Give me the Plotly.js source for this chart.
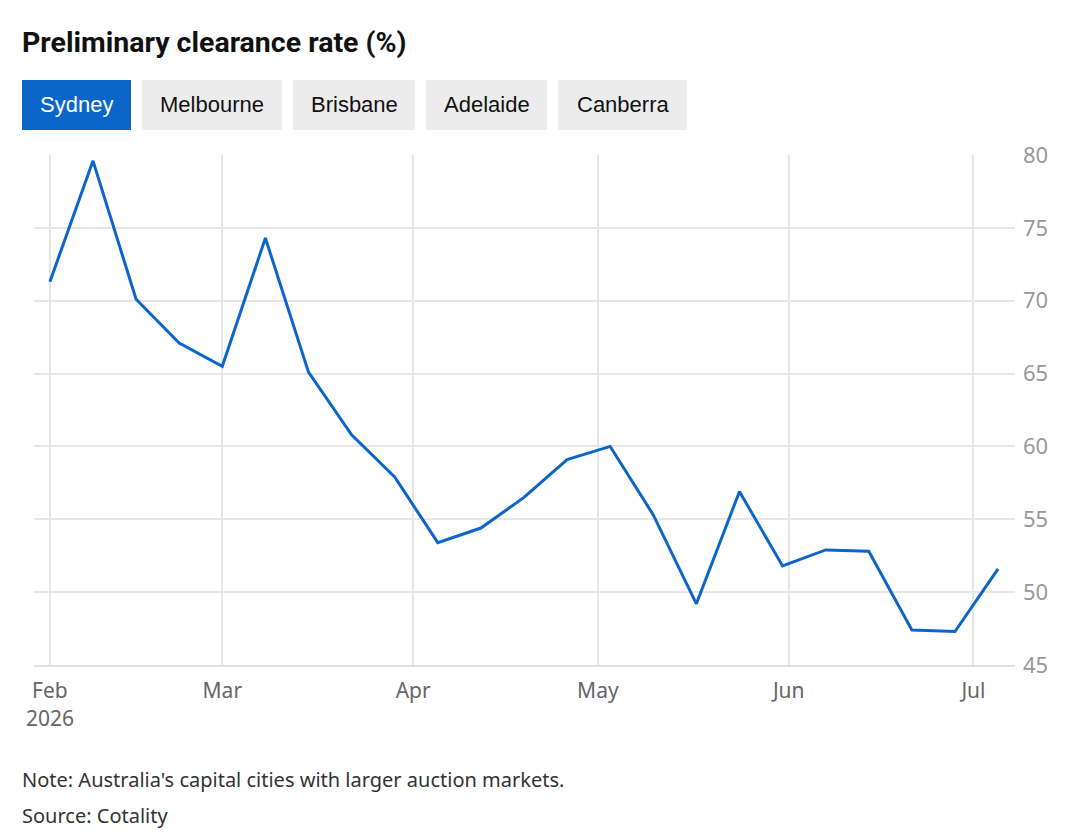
<!DOCTYPE html>
<html>
<head>
<meta charset="utf-8">
<script src="https://cdn.plot.ly/plotly-3.0.1.min.js"></script>
<style>
  html, body { margin: 0; padding: 0; background: #fff; }
  #chart { width: 1080px; height: 837px; }
</style>
</head>
<body>
<div id="chart"></div>
<script>
// Data (weekly preliminary clearance rate, Sydney)
const dates = [
  '2026-02-01','2026-02-08','2026-02-15','2026-02-22','2026-03-01','2026-03-08',
  '2026-03-15','2026-03-22','2026-03-29','2026-04-05','2026-04-12','2026-04-19',
  '2026-04-26','2026-05-03','2026-05-10','2026-05-17','2026-05-24','2026-05-31',
  '2026-06-07','2026-06-14','2026-06-21','2026-06-28','2026-07-05'
];
const sydney = [
  71.3, 79.6, 70.1, 67.1, 65.5, 74.3,
  65.1, 60.8, 57.9, 53.4, 54.4, 56.5,
  59.1, 60.0, 55.3, 49.2, 56.9, 51.8,
  52.9, 52.8, 47.4, 47.3, 51.6
];
const cities = ['Sydney', 'Melbourne', 'Brisbane', 'Adelaide', 'Canberra'];
const tickDates = ['2026-02-01','2026-03-01','2026-04-01','2026-05-01','2026-06-01','2026-07-01'];
const tickLabels = ['Feb<br>2026','Mar','Apr','May','Jun','Jul'];
const yTicks = [45, 50, 55, 60, 65, 70, 75, 80];
const titleText = 'Preliminary clearance rate (%)';
const noteText = "Note: Australia's capital cities with larger auction markets.";
const sourceText = 'Source: Cotality';

// layout geometry (pixels)
const W = 1080, H = 837;
const L = 34, R = 1015, T = 155, B = 665;
const px = x => (x - L) / (R - L);
const py = y => (B - y) / (B - T);

const btnX = [[22,131],[142,282],[293,415],[426,547],[558,687]];
const btnY = [80,130];

const shapes = [];
const annotations = [];
cities.forEach((c, i) => {
  const active = i === 0;
  shapes.push({
    type: 'rect', xref: 'paper', yref: 'paper', layer: 'above',
    x0: px(btnX[i][0]), x1: px(btnX[i][1]), y0: py(btnY[1]), y1: py(btnY[0]),
    fillcolor: active ? '#0c66c9' : '#ececec', line: {width: 0}
  });
  annotations.push({
    xref: 'paper', yref: 'paper', x: px((btnX[i][0] + btnX[i][1]) / 2), y: py((btnY[0] + btnY[1]) / 2),
    xanchor: 'center', yanchor: 'middle', showarrow: false, text: c,
    font: {family: 'Liberation Sans, Arial, sans-serif', size: 22, color: active ? '#ffffff' : '#111111'}
  });
});
annotations.push({
  xref: 'paper', yref: 'paper', x: px(20), y: py(43), xanchor: 'left', yanchor: 'middle',
  showarrow: false, text: titleText,
  font: {family: 'Roboto, Liberation Sans, sans-serif', size: 28.5, weight: 700, color: '#111111'}
});
annotations.push({
  xref: 'paper', yref: 'paper', x: px(20), y: py(779), xanchor: 'left', yanchor: 'middle',
  showarrow: false, text: noteText,
  font: {family: 'Noto Sans, Open Sans, sans-serif', size: 20, color: '#333333'}
});
annotations.push({
  xref: 'paper', yref: 'paper', x: px(20), y: py(815), xanchor: 'left', yanchor: 'middle',
  showarrow: false, text: sourceText,
  font: {family: 'Noto Sans, Open Sans, sans-serif', size: 20, color: '#333333'}
});

const trace = {
  x: dates, y: sydney, type: 'scatter', mode: 'lines',
  line: {color: '#0c66c9', width: 3},
  hoverinfo: 'x+y'
};

const layout = {
  width: W, height: H,
  margin: {l: L, r: W - R, t: T, b: H - B, pad: 0},
  paper_bgcolor: '#ffffff', plot_bgcolor: '#ffffff',
  showlegend: false,
  xaxis: {
    type: 'date',
    range: ['2026-01-29 10:00', '2026-07-07 18:00'],
    tickmode: 'array', tickvals: tickDates, ticktext: tickLabels,
    showgrid: true, gridcolor: '#e6e6e6', gridwidth: 1.5,
    showline: true, linecolor: '#e0e0e0', linewidth: 2,
    ticks: '', zeroline: false,
    ticklabelstandoff: 6,
    tickfont: {family: 'Noto Sans, Open Sans, sans-serif', size: 21, color: '#666666'},
    fixedrange: true
  },
  yaxis: {
    side: 'right', range: [45, 80],
    tickmode: 'array', tickvals: yTicks,
    showgrid: true, gridcolor: '#e6e6e6', gridwidth: 1.5,
    showline: false, zeroline: false, ticks: '',
    ticklabelstandoff: 7,
    tickfont: {family: 'Noto Sans, Open Sans, sans-serif', size: 22, color: '#999999'},
    fixedrange: true
  },
  shapes: shapes,
  annotations: annotations
};

Plotly.newPlot('chart', [trace], layout, {displayModeBar: false});
</script>
</body>
</html>
